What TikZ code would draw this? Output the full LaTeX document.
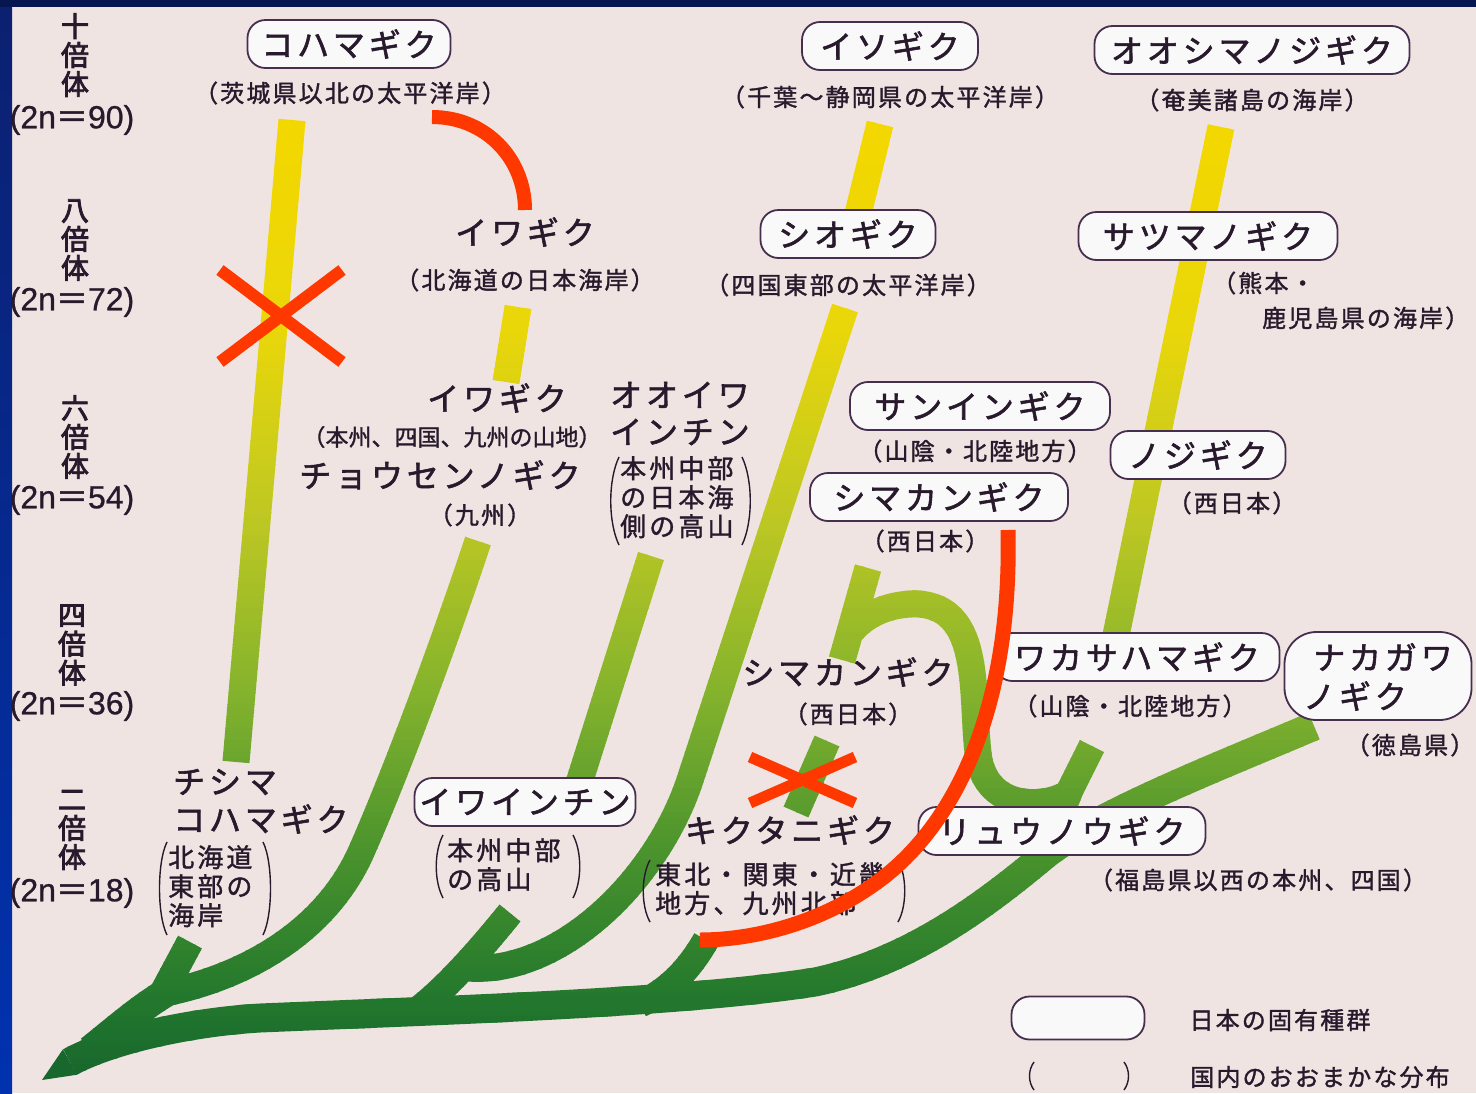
\documentclass[tikz,border=0pt]{standalone}
\usepackage{fontspec}
\newfontfamily\jpname[LetterSpace=12,FakeBold=1.8]{Noto Sans CJK JP}
\newfontfamily\jpsub[LetterSpace=9,FakeBold=1.4]{Noto Sans CJK JP}
\newfontfamily\jpbrk[LetterSpace=12,FakeBold=1.4]{Noto Sans CJK JP}
\newfontfamily\jpplain[FakeBold=1.4]{Noto Sans CJK JP}
\newfontfamily\jpbold[FakeBold=3]{Noto Sans CJK JP}
\newfontfamily\latf[FakeBold=0.8]{Liberation Sans}
\definecolor{paper}{RGB}{239,228,226}
\definecolor{ink}{RGB}{40,26,44}
\definecolor{boxline}{RGB}{70,46,78}
\definecolor{boxfill}{RGB}{250,249,250}
\definecolor{redc}{RGB}{255,56,0}
\definecolor{navy}{RGB}{5,22,80}
\definecolor{bltop}{RGB}{12,32,112}
\definecolor{blbot}{RGB}{0,50,175}
\definecolor{tipc}{RGB}{24,103,45}
\newcommand\nmfont{\jpname\fontsize{32pt}{37pt}\selectfont}
\newcommand\subfont{\jpsub\fontsize{24pt}{28pt}\selectfont}
\newcommand\subnfont{\jpplain\fontsize{23pt}{28pt}\selectfont}
\newcommand\brkfont{\jpbrk\fontsize{26pt}{29pt}\selectfont}
\newcommand\plofont{\jpbold\fontsize{28pt}{29pt}\selectfont}
\newcommand\twonfont{\latf\fontsize{32pt}{34pt}\selectfont}
\newcommand\twon[1]{{\twonfont(2n}{\jpplain\fontsize{32pt}{34pt}\selectfont＝}{\twonfont#1)}}
% tree paths
\def\pKoh{(292,120) -- (236,762)}
\def\pIso{(880,124) -- (856,222)}
\def\pOsh{(1221,127) -- (1114,645)}
\def\pIwaE{(518,307) -- (506,382)}
\def\pOoi{(651,556) -- (572,805)}
\def\pShio{(468,968) .. controls (560,975) and (657,880) .. (690,780) -- (845,308)}
\def\pChou{(165,993) .. controls (240,978) and (325,935) .. (362,850) .. controls (395,775) and (440,655) .. (478,541)}
\def\pChiS{(160,998) -- (190,942)}
\def\pIwS{(415,1012) .. controls (445,990) and (480,950) .. (510,913)}
\def\pKik{(640,1004) .. controls (670,990) and (690,968) .. (706,940)}
\def\pSkf{(827,741) -- (796,812)}
\def\pYst{(1040,862) .. controls (1052,835) and (1062,810) .. (1070,790) -- (1092,746)}
\def\pRa{(1070,792) .. controls (1048,808) and (990,812) .. (979,760) .. controls (970,700) and (985,608) .. (918,604) .. controls (885,603) and (860,618) .. (848,636)}
\def\pRaV{(868,568) -- (842,660)}
\def\pTrunk{(70,1062) .. controls (110,1040) and (190,1022) .. (260,1018) .. controls (450,1010) and (680,1003) .. (815,982) .. controls (910,962) and (985,905) .. (1045,855) .. controls (1100,812) and (1230,762) .. (1314,726)}
\def\pRise{(90,1050) .. controls (115,1030) and (140,1008) .. (167,992)}
\begin{document}
\begin{tikzpicture}[x=1pt,y=-1pt,
  nm/.style={font=\nmfont, text=ink, inner sep=0pt},
  nbox/.style={nm, draw=boxline, line width=1.8pt, fill=boxfill, rounded corners=18pt, minimum height=48pt},
  sub/.style={font=\subfont, text=ink, inner sep=0pt},
  subn/.style={font=\subnfont, text=ink, inner sep=0pt},
  brk/.style={font=\brkfont, text=ink, inner sep=0pt, align=left},
  plo/.style={font=\plofont, text=ink, inner sep=0pt, align=center},
  twn/.style={text=ink, inner sep=0pt},
  stemline/.style={line width=27pt, line join=round},
  trunkline/.style={line width=29pt, line join=round},
  redmark/.style={draw=redc, line width=14pt},
  paren/.style={draw=ink, line width=1.4pt}]
\useasboundingbox (0,0) rectangle (1476,1093);
\fill[paper] (0,0) rectangle (1476,1093);
\shade[top color=bltop, bottom color=blbot] (0,0) rectangle (12,1093);
\fill[navy] (0,0) rectangle (1476,7);
% tree with vertical colour gradient
\foreach \k in {0,...,164} {
  \pgfmathsetmacro\ya{110+6*\k}
  \pgfmathsetmacro\yy{max(\ya+3,120)}
  \pgfmathtruncatemacro\R{\yy<330 ? 244-(\yy-120)/210*10 : (\yy<520 ? 234-(\yy-330)/190*44 : (\yy<700 ? 190-(\yy-520)/180*60 : (\yy<850 ? 130-(\yy-700)/150*55 : (\yy<1000 ? 75-(\yy-850)/150*40 : 35-(\yy-1000)/93*13))))}
  \pgfmathtruncatemacro\G{\yy<330 ? 215 : (\yy<520 ? 215-(\yy-330)/190*15 : (\yy<700 ? 200-(\yy-520)/180*22 : (\yy<850 ? 178-(\yy-700)/150*30 : (\yy<1000 ? 148-(\yy-850)/150*28 : 120-(\yy-1000)/93*20))))}
  \pgfmathtruncatemacro\B{\yy<330 ? (\yy-120)/210*10 : (\yy<520 ? 10+(\yy-330)/190*25 : (\yy<700 ? 35+(\yy-520)/180*10 : 45))}
  \definecolor{bandc}{RGB}{\R,\G,\B}
  \begin{scope}
    \clip (0,\ya) rectangle (1476,\ya+6.7);
    \draw[stemline, bandc] \pKoh \pIso \pOsh \pIwaE \pOoi \pShio \pChou \pChiS \pIwS \pKik \pSkf \pYst \pRa \pRaV;
    \draw[trunkline, bandc] \pTrunk \pRise;
  \end{scope}
}
\fill[tipc] (62.9,1049.3) -- (77.1,1074.7) -- (42,1080) -- cycle;
% ploidy levels
\node[plo] (p10) at (75,55) {十\\倍\\体};
\node[twn] (n10) at (72,120) {\twon{90}};
\node[plo] (p8) at (75,240) {八\\倍\\体};
\node[twn] (n8) at (72,302) {\twon{72}};
\node[plo] (p6) at (75,437) {六\\倍\\体};
\node[twn] (n6) at (72,500) {\twon{54}};
\node[plo] (p4) at (72,645) {四\\倍\\体};
\node[twn] (n4) at (72,706) {\twon{36}};
\node[plo] (p2) at (72,830) {二\\倍\\体};
\node[twn] (n2) at (72,893) {\twon{18}};
% species
\node[nbox, minimum width=203pt] (kohama) at (349,44) {コハマギク};
\node[sub] (kohamaS) at (350,93) {（茨城県以北の太平洋岸）};
\node[nbox, minimum width=176pt] (iso) at (890,46) {イソギク};
\node[sub] (isoS) at (890,97) {（千葉〜静岡県の太平洋岸）};
\node[nbox, minimum width=315pt] (oshima) at (1252,50) {オオシマノジギク};
\node[sub] (oshimaS) at (1252,100) {（奄美諸島の海岸）};
\node[nm] (iwa8) at (525,232) {イワギク};
\node[sub] (iwa8S) at (525,280) {（北海道の日本海岸）};
\node[nbox, minimum width=175pt] (shio) at (848,234) {シオギク};
\node[sub] (shioS) at (848,285) {（四国東部の太平洋岸）};
\node[nbox, minimum width=259pt] (satsuma) at (1208,236) {サツマノギク};
\node[sub, anchor=west] (satsumaS1) at (1212,283) {（熊本・};
\node[sub, anchor=west] (satsumaS2) at (1262,318) {鹿児島県の海岸）};
\node[nm] (iwa6) at (497,398) {イワギク};
\node[subn] (iwa6S) at (452,437) {（本州、四国、九州の山地）};
\node[nm] (chosen) at (440,475) {チョウセンノギク};
\node[sub] (chosenS) at (480,515) {（九州）};
\node[nm, anchor=west] (ooiwa1) at (610,395) {オオイワ};
\node[nm, anchor=west] (ooiwa2) at (610,432) {インチン};
\node[brk, anchor=north west] (ooiwaS) at (620,456) {本州中部\\の日本海\\側の高山};
\node[nbox, minimum width=260pt] (sanin) at (980,406) {サンインギク};
\node[sub] (saninS) at (975,451) {（山陰・北陸地方）};
\node[nbox, minimum width=175pt] (noji) at (1198,455) {ノジギク};
\node[sub] (nojiS) at (1232,503) {（西日本）};
\node[nbox, minimum width=258pt] (shimakan6) at (939,497) {シマカンギク};
\node[sub] (shimakan6S) at (925,541) {（西日本）};
\node[nm] (shimakan4) at (848,672) {シマカンギク};
\node[sub] (shimakan4S) at (848,714) {（西日本）};
\node[nbox, minimum width=285pt] (wakasa) at (1137,657) {ワカサハマギク};
\node[sub] (wakasaS) at (1130,706) {（山陰・北陸地方）};
\node[nbox, minimum width=187pt, minimum height=88pt, rounded corners=32pt] (nakabox) at (1378,676) {};
\node[nm] (naka1) at (1383,657) {ナカガワ};
\node[nm] (naka2) at (1355,696) {ノギク};
\node[sub] (nakaS) at (1410,745) {（徳島県）};
\node[nm, anchor=west] (chishima1) at (173,782) {チシマ};
\node[nm, anchor=west] (chishima2) at (173,819) {コハマギク};
\node[brk, anchor=north west] (chishimaS) at (168,845) {北海道\\東部の\\海岸};
\node[nbox, minimum width=221pt] (iwainchin) at (525,802) {イワインチン};
\node[brk, anchor=north west] (iwainchinS) at (447,838) {本州中部\\の高山};
\node[nm] (kikutani) at (790,830) {キクタニギク};
\node[brk, anchor=north west] (kikutaniS) at (655,862) {東北・関東・近畿\\地方、九州北部};
\node[nbox, minimum width=287pt] (ryuno) at (1062,831) {リュウノウギク};
\node[sub] (ryunoS) at (1258,880) {（福島県以西の本州、四国）};
% tall parentheses
\draw[paren] (167,842) .. controls (157,862) and (157,915) .. (167,935);
\draw[paren] (263,842) .. controls (273,862) and (273,915) .. (263,935);
\draw[paren] (619,457) .. controls (608,480) and (608,522) .. (619,545);
\draw[paren] (742,457) .. controls (753,480) and (753,522) .. (742,545);
\draw[paren] (443,835) .. controls (434,852) and (434,881) .. (443,898);
\draw[paren] (573,835) .. controls (582,852) and (582,881) .. (573,898);
\draw[paren] (650,860) .. controls (641,876) and (641,906) .. (650,922);
\draw[paren] (898,860) .. controls (907,876) and (907,906) .. (898,922);
% legend
\node[nbox, minimum width=133pt, minimum height=43pt] (legbox) at (1078,1018) {};
\node[sub] (leg1) at (1280,1020) {日本の固有種群};
\draw[paren] (1034,1062) .. controls (1028,1070) and (1028,1082) .. (1034,1090);
\draw[paren] (1124,1062) .. controls (1130,1070) and (1130,1082) .. (1124,1090);
\node[sub] (leg2) at (1320,1077) {国内のおおまかな分布};
% red marks
\draw[redmark] (432,117) .. controls (485,117) and (525,158) .. (525,210);
\draw[redmark, line width=12pt] (220,270) -- (342,362) (220,362) -- (342,270);
\draw[redmark, line width=11pt] (750,757) -- (855,803) (750,803) -- (855,757);
\draw[redmark, line width=15pt] (1008,530) .. controls (1012,700) and (960,820) .. (880,880) .. controls (820,925) and (750,940) .. (700,940);
\end{tikzpicture}
\end{document}
